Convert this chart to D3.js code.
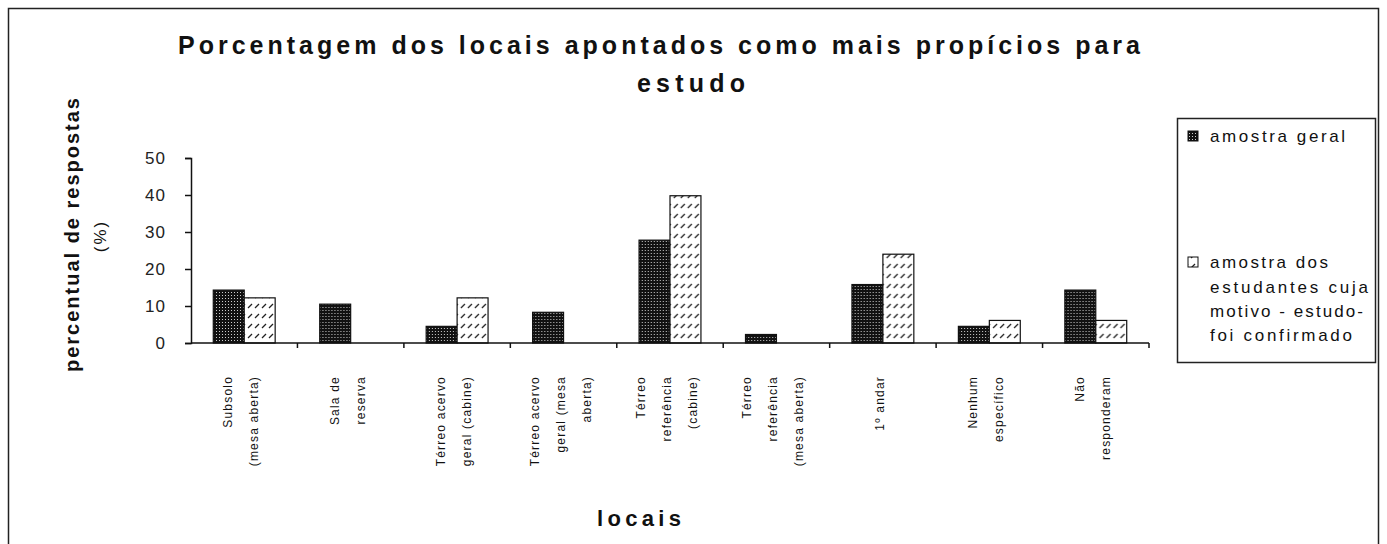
<!DOCTYPE html>
<html>
<head>
<meta charset="utf-8">
<script src="https://cdn.jsdelivr.net/npm/d3@7"></script>
<style>
  body { margin: 0; background: #fff; }
  svg { display: block; font-family: "Liberation Sans", Arial, sans-serif; }
</style>
</head>
<body>
<svg width="1387" height="544"></svg>
<script>
// chart data
const categories = [
  ['Subsolo', '(mesa aberta)'],
  ['Sala de', 'reserva'],
  ['Térreo acervo', 'geral (cabine)'],
  ['Térreo acervo', 'geral (mesa', 'aberta)'],
  ['Térreo', 'referência', '(cabine)'],
  ['Térreo', 'referência', '(mesa aberta)'],
  ['1º andar'],
  ['Nenhum', 'específico'],
  ['Não', 'responderam']
];
const seriesNames = ['amostra geral', 'amostra dos estudantes cuja motivo - estudo- foi confirmado'];
const geral = [14.3, 10.5, 4.5, 8.3, 27.8, 2.3, 15.8, 4.5, 14.3];
const confirmado = [12.2, 0, 12.2, 0, 39.8, 0, 24, 6.1, 6.1];
const yTicks = [0, 10, 20, 30, 40, 50];

const svg = d3.select('svg');

// patterns: dotted dark and dashed hatch
const defs = svg.append('defs');
const dots = defs.append('pattern').attr('id', 'dots')
  .attr('patternUnits', 'userSpaceOnUse').attr('width', 3).attr('height', 3);
dots.append('rect').attr('width', 3).attr('height', 3).attr('fill', '#111');
dots.append('rect').attr('x', 1).attr('y', 1).attr('width', 1).attr('height', 1).attr('fill', '#ccc');

const hatch = defs.append('pattern').attr('id', 'hatch')
  .attr('patternUnits', 'userSpaceOnUse').attr('width', 7).attr('height', 10);
hatch.append('rect').attr('width', 7).attr('height', 10).attr('fill', '#fff');
hatch.append('line').attr('x1', 1).attr('y1', 8).attr('x2', 5).attr('y2', 4)
  .attr('stroke', '#222').attr('stroke-width', 1.2);

// outer frame
svg.append('rect').attr('x', 8.5).attr('y', 8.5).attr('width', 1370).attr('height', 560)
  .attr('fill', 'none').attr('stroke', '#222').attr('stroke-width', 1.5);

// scales
const x0 = d3.scaleBand().domain(d3.range(categories.length)).range([191, 1149]);
const x1 = d3.scaleBand().domain([0, 1]).range([0, x0.bandwidth()]).paddingOuter(0.72);
const y = d3.scaleLinear().domain([0, 50]).range([343, 158]);

// bars
const groups = svg.append('g').selectAll('g')
  .data(categories.map((c, i) => [geral[i], confirmado[i]]))
  .join('g')
  .attr('transform', (d, i) => `translate(${x0(i)},0)`);

groups.selectAll('rect')
  .data(d => d.map((v, s) => ({ v, s })).filter(e => e.v > 0))
  .join('rect')
  .attr('x', d => x1(d.s))
  .attr('y', d => y(d.v))
  .attr('width', x1.bandwidth())
  .attr('height', d => y(0) - y(d.v))
  .attr('fill', d => d.s === 0 ? 'url(#dots)' : 'url(#hatch)')
  .attr('stroke', '#111')
  .attr('stroke-width', 1.2);

// y axis
const yAxis = svg.append('g').attr('transform', 'translate(191,0)')
  .call(d3.axisLeft(y).tickValues(yTicks).tickSize(6).tickPadding(19));
yAxis.select('.domain').attr('stroke', '#111').attr('stroke-width', 1.5);
yAxis.selectAll('.tick line').attr('stroke', '#111').attr('stroke-width', 1.5);
yAxis.selectAll('.tick text').attr('font-size', 17).attr('letter-spacing', 1)
  .attr('fill', '#222').attr('font-family', '"Liberation Sans", Arial, sans-serif');

// x axis line and ticks at band edges
const xEdges = d3.range(categories.length + 1).map(i => i === categories.length ? 1149 : x0(i));
svg.append('line').attr('x1', 191).attr('x2', 1149).attr('y1', y(0)).attr('y2', y(0))
  .attr('stroke', '#111').attr('stroke-width', 1.5);
svg.append('g').selectAll('line').data(xEdges.slice(1)).join('line')
  .attr('x1', d => d).attr('x2', d => d).attr('y1', y(0)).attr('y2', y(0) + 5)
  .attr('stroke', '#111').attr('stroke-width', 1.5);

// category labels (rotated, reading upward)
const lineGap = 26;
svg.append('g').selectAll('g').data(categories).join('g')
  .each(function (lines, i) {
    const cx = x0(i) + x0.bandwidth() / 2 - 3;
    const first = cx - (lines.length - 1) * lineGap / 2;
    d3.select(this).selectAll('text').data(lines).join('text')
      .attr('transform', (t, j) => `translate(${first + j * lineGap + 4},376) rotate(-90)`)
      .attr('text-anchor', 'end')
      .attr('font-size', 12)
      .attr('letter-spacing', 1.2)
      .attr('fill', '#111')
      .text(t => t);
  });

// title
const title = svg.append('g').attr('font-weight', 'bold').attr('fill', '#111').attr('font-size', 25);
title.append('text').attr('x', 178).attr('y', 54)
  .attr('textLength', 962).attr('lengthAdjust', 'spacing')
  .text('Porcentagem dos locais apontados como mais propícios para');
title.append('text').attr('x', 637).attr('y', 92)
  .attr('textLength', 108).attr('lengthAdjust', 'spacing')
  .text('estudo');

// axis titles
svg.append('text').attr('transform', 'translate(79,235) rotate(-90)')
  .attr('text-anchor', 'middle').attr('font-weight', 'bold').attr('font-size', 20)
  .attr('textLength', 274).attr('lengthAdjust', 'spacing').attr('fill', '#111')
  .text('percentual de respostas');
svg.append('text').attr('transform', 'translate(106,236) rotate(-90)')
  .attr('text-anchor', 'middle').attr('font-size', 17).attr('letter-spacing', 2).attr('fill', '#111')
  .text('(%)');
svg.append('text').attr('x', 597).attr('y', 526)
  .attr('font-weight', 'bold').attr('font-size', 22)
  .attr('textLength', 84).attr('lengthAdjust', 'spacing').attr('fill', '#111')
  .text('locais');

// legend
const legend = svg.append('g');
legend.append('rect').attr('x', 1177.5).attr('y', 118.5).attr('width', 198).attr('height', 244)
  .attr('fill', '#fff').attr('stroke', '#222').attr('stroke-width', 1.5);
const legendLines = [
  [{ t: 'amostra geral', w: 135, y: 142 }],
  [{ t: 'amostra dos', w: 118, y: 268 }, { t: 'estudantes cuja', w: 158, y: 293 },
   { t: 'motivo - estudo-', w: 153, y: 317 }, { t: 'foi confirmado', w: 142, y: 341 }]
];
legend.selectAll('g').data(legendLines).join('g').each(function (lines, s) {
  const g = d3.select(this);
  g.append('rect').attr('x', 1188).attr('y', lines[0].y - 11).attr('width', 10).attr('height', 10)
    .attr('fill', s === 0 ? 'url(#dots)' : 'url(#hatch)').attr('stroke', '#111');
  g.selectAll('text').data(lines).join('text')
    .attr('x', 1210).attr('y', d => d.y)
    .attr('font-size', 17).attr('fill', '#111')
    .attr('textLength', d => d.w).attr('lengthAdjust', 'spacing')
    .text(d => d.t);
});
</script>
</body>
</html>
